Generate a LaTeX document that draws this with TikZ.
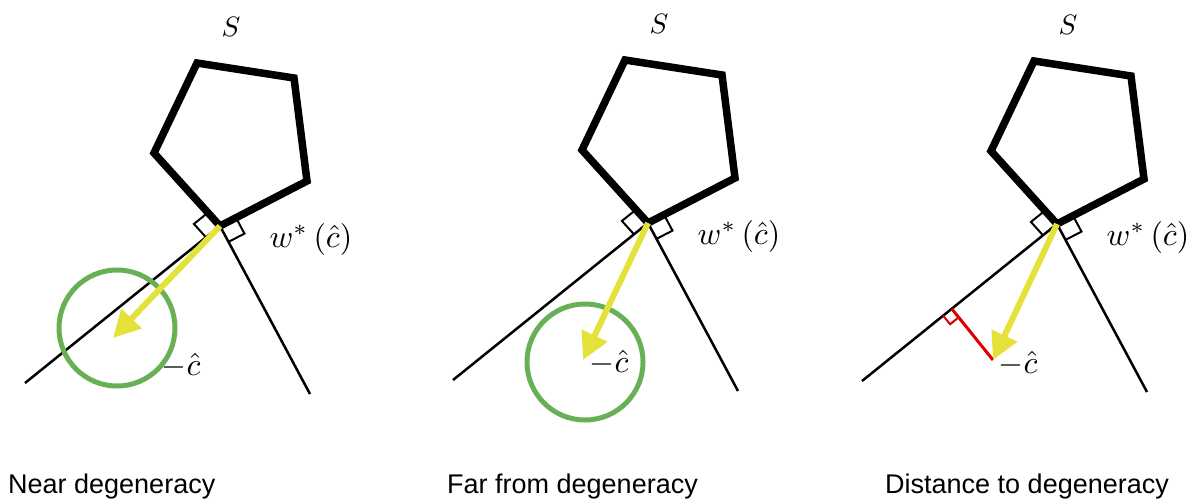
\documentclass[tikz,border=0pt]{standalone}
\usepackage{fontspec}
\newfontfamily\capfont{Liberation Sans}
\usetikzlibrary{arrows.meta, calc}
\definecolor{arrowyellow}{RGB}{228,226,58}
\definecolor{ballgreen}{RGB}{104,176,86}
\definecolor{distred}{RGB}{222,0,0}

\begin{document}
\begin{tikzpicture}[x=1pt, y=-1pt, >=Stealth,
  pent/.style={line width=7.5pt},
  coneline/.style={line width=2.5pt},
  sq/.style={line width=2pt},
  ball/.style={draw=ballgreen, line width=5pt},
  dir/.style={draw=arrowyellow, line width=6pt, -{Triangle[length=27pt, width=27pt]}},
  dist/.style={draw=distred, line width=3pt},
  mlabel/.style={scale=3.2, inner sep=0pt},
  setlabel/.style={scale=2.8, inner sep=0pt},
  paneltitle/.style={font=\capfont\fontsize{27}{32}\selectfont, anchor=base west, inner sep=0pt}]
  \useasboundingbox (0,0) rectangle (1199,501);
  % Ensemble S et cone normal, identiques dans les trois panneaux
  \foreach \i/\dx/\dy in {1/0/0, 2/428/-3, 3/837/-2}{
    \begin{scope}[shift={(\dx,\dy)}]
      \coordinate (A\i) at (197,63);
      \coordinate (B\i) at (294,78);
      \coordinate (C\i) at (307,181);
      \coordinate (V\i) at (220,226);
      \coordinate (E\i) at (154,153);
      \coordinate (L\i) at (25,383);
      \coordinate (R\i) at (310,394);
      \draw[pent] (A\i) -- (B\i) -- (C\i) -- (V\i) -- (E\i) -- cycle;
      \draw[coneline] (V\i) -- (L\i);
      \draw[coneline] (V\i) -- (R\i);
      % angles droits
      \coordinate (ml\i) at ($(V\i)!18pt!(L\i)$);
      \coordinate (me\i) at ($(V\i)!18pt!(E\i)$);
      \draw[sq] (ml\i) -- ($(ml\i)+(me\i)-(V\i)$) -- (me\i);
      \coordinate (mr\i) at ($(V\i)!18pt!(R\i)$);
      \coordinate (mc\i) at ($(V\i)!18pt!(C\i)$);
      \draw[sq] (mr\i) -- ($(mr\i)+(mc\i)-(V\i)$) -- (mc\i);
      % etiquettes
      \node[setlabel] (S\i) at (231,27) {$S$};
      \node[mlabel] (w\i) at (311,239) {$w^*\,(\hat{c})$};
      \node[mlabel] (c\i) at (181,366) {$-\hat{c}$};
    \end{scope}
  }
  % Panneau 1 : proche de la degenerescence
  \coordinate (T1) at (113,338);
  \node[ball, circle, minimum size=116pt] (G1) at (117,328) {};
  \draw[dir] (V1) -- (T1);
  % Panneau 2 : loin de la degenerescence
  \coordinate (T2) at (583,360);
  \node[ball, circle, minimum size=116pt] (G2) at (585,362) {};
  \draw[dir] (V2) -- (T2);
  % Panneau 3 : distance a la degenerescence
  \coordinate (T3) at (993,360);
  \coordinate (F3) at ($(L3)!(T3)!(V3)$);
  \draw[dist] (F3) -- (T3);
  \coordinate (fl) at ($(F3)!11pt!(L3)$);
  \coordinate (ft) at ($(F3)!11pt!(T3)$);
  \draw[dist, line width=2pt] (fl) -- ($(fl)+(ft)-(F3)$) -- (ft);
  \draw[dir] (V3) -- (T3);
  % Titres
  \node[paneltitle] (t1) at (8,493) {Near degeneracy};
  \node[paneltitle] (t2) at (447,493) {Far from degeneracy};
  \node[paneltitle] (t3) at (885,493) {Distance to degeneracy};
\end{tikzpicture}
\end{document}
